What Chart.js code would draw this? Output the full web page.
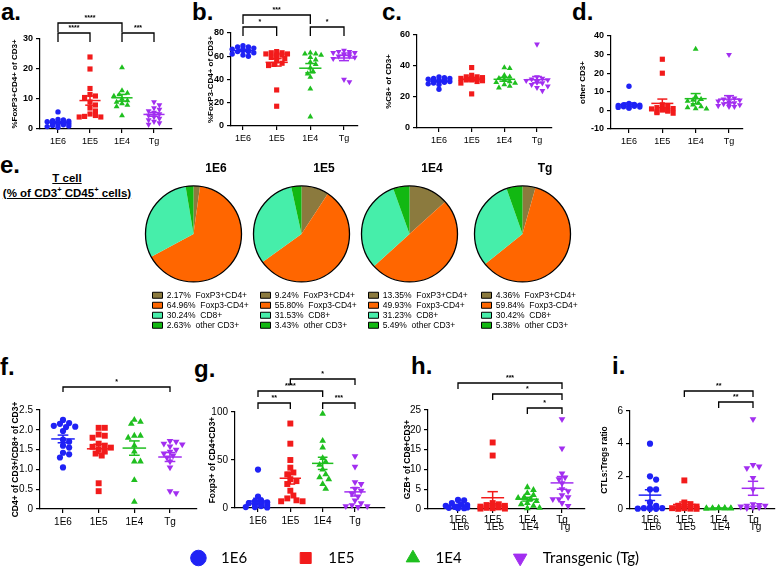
<!DOCTYPE html>
<html>
<head>
<meta charset="utf-8">
<title>T cell subsets</title>
<script src="https://cdn.jsdelivr.net/npm/chart.js@4.4.1/dist/chart.umd.min.js"></script>
<style>
  html, body { margin: 0; padding: 0; background: #fff; }
  body { position: relative; width: 778px; height: 567px; overflow: hidden; font-family: 'Liberation Sans', Arial, sans-serif; }
  canvas { position: absolute; }
  .panel { position: absolute; font-weight: bold; font-size: 24px; line-height: 24px; color: #000; }
  .tcell { position: absolute; left: 0; top: 171px; width: 134px; text-align: center; font-weight: bold; font-size: 11.5px; line-height: 15px; color: #000; white-space: nowrap; }
  .tcell sup { font-size: 7.5px; line-height: 0; }
</style>
</head>
<body>
<div class="panel" style="left:1px;top:0px">a.</div>
<div class="panel" style="left:192px;top:0px">b.</div>
<div class="panel" style="left:382px;top:0px">c.</div>
<div class="panel" style="left:572px;top:0px">d.</div>
<div class="panel" style="left:0px;top:153px">e.</div>
<div class="panel" style="left:0px;top:355px">f.</div>
<div class="panel" style="left:194px;top:357px">g.</div>
<div class="panel" style="left:411px;top:354px">h.</div>
<div class="panel" style="left:612px;top:354px">i.</div>
<div class="tcell"><u>T cell</u><br><u>(% of CD3<sup>+</sup> CD45<sup>+</sup> cells)</u></div>

<canvas id="chartA"></canvas>
<canvas id="chartB"></canvas>
<canvas id="chartC"></canvas>
<canvas id="chartD"></canvas>
<canvas id="pie1E6"></canvas>
<canvas id="pie1E5"></canvas>
<canvas id="pie1E4"></canvas>
<canvas id="pieTg"></canvas>
<canvas id="chartF"></canvas>
<canvas id="chartG"></canvas>
<canvas id="chartH"></canvas>
<canvas id="chartI"></canvas>
<canvas id="groupLegend"></canvas>

<script>
// ---- groups shared by every panel ----
const groups = ['1E6', '1E5', '1E4', 'Tg'];
const groupNames = ['1E6', '1E5', '1E4', 'Transgenic (Tg)'];
const groupColors = ['#1f22f5', '#f21b1b', '#1fbf1f', '#a22ef0'];
const groupShapes = ['circle', 'rect', 'triangle', 'triangle'];
const groupRotations = [0, 0, 0, 180];

// a. %FoxP3+CD4+ of CD3+
const foxp3PosCd4 = [
  [5.7, 3.2, 3.0, 2.8, 2.6, 2.4, 2.3, 2.2, 2.0, 1.8, 1.6, 1.4, 1.2, 1.0, 0.8, 0.6],
  [24, 20, 13.5, 11.5, 11, 10.5, 9, 8, 7, 6, 5, 4.5, 4.2, 4, 4],
  [20.5, 12.8, 12, 11.5, 11, 10, 9.5, 9, 8.5, 8, 7.5, 4.5],
  [9, 8, 7, 6.5, 6, 5.5, 5, 4.5, 4, 3.5, 3, 2.5, 2, 1.5]
];
const foxp3PosCd4Sig = [[0, 1, '****', 0], [2, 3, '***', 0], [0, 2, '****', 1]];

// b. %FoxP3-CD4+ of CD3+
const foxp3NegCd4 = [
  [69, 68, 68, 67, 66, 66, 65, 65, 64, 64, 63, 62, 61, 60],
  [64, 63, 63, 62, 62, 61, 61, 60, 59, 58, 56, 54, 53, 52, 31, 17],
  [63, 62, 62, 61, 59, 57, 55, 53, 50, 47, 45, 42, 32, 8],
  [65, 64, 64, 63, 63, 62, 62, 61, 60, 60, 59, 58, 40, 38]
];
const foxp3NegCd4Sig = [[0, 1, '*', 0], [2, 3, '*', 0], [0, 2, '***', 1]];

// c. %C8+ of CD3+
const cd8OfCd3 = [
  [33, 32.5, 32, 32, 31.5, 31, 31, 30.5, 30, 30, 29.5, 29, 28.5, 28, 25],
  [39, 34, 33, 33, 32.5, 32, 32, 31.5, 31, 31, 30.5, 30, 29, 22],
  [39, 38.5, 34, 33, 32, 31, 30, 29.5, 29, 28, 27, 26],
  [54, 33, 32, 31.5, 31, 30.5, 30, 29.5, 29, 28, 27, 26, 24]
];
const cd8OfCd3Sig = [];

// d. other CD3+
const otherCd3 = [
  [13, 3.8, 3.2, 3, 2.8, 2.6, 2.4, 2.2, 2, 1.8, 1.6, 1.4, 1.2],
  [27.5, 20, 3, 2.2, 1.5, 1, 0.8, 0.5, 0.2, 0, -0.4, -0.8, -1.2, -1.5],
  [33, 7.5, 6, 5.5, 5, 4, 3, 2, 1.5, 1, 0.8],
  [30, 7, 6.5, 6, 5.5, 5, 4.5, 4, 3.5, 3, 3, 2.5, 2, 2]
];
const otherCd3Sig = [];

// e. pie charts, % of CD3+CD45+ cells
const pieSubsets = ['FoxP3+CD4+', 'Foxp3-CD4+', 'CD8+', 'other CD3+'];
const pieColors = ['#8b7a3e', '#ff6600', '#46eeaa', '#12b812'];
const pie1E6 = [2.17, 64.96, 30.24, 2.63];
const pie1E5 = [9.24, 55.80, 31.53, 3.43];
const pie1E4 = [13.35, 49.93, 31.23, 5.49];
const pieTg = [4.36, 59.84, 30.42, 5.38];

// f. CD4+ of CD3+ / CD8+ of CD3+
const cd4Cd8Ratio = [
  [2.25, 2.17, 2.15, 2.1, 2.08, 2.07, 1.97, 1.75, 1.7, 1.6, 1.55, 1.42, 1.38, 1.3, 1.05],
  [2.05, 2.05, 1.88, 1.85, 1.8, 1.65, 1.6, 1.57, 1.55, 1.5, 1.45, 1.4, 1.35, 0.65, 0.45],
  [2.25, 2.2, 2.15, 1.85, 1.85, 1.8, 1.6, 1.45, 1.2, 1.2, 0.73, 0.18],
  [1.72, 1.7, 1.65, 1.63, 1.58, 1.5, 1.45, 1.4, 1.35, 1.3, 1.2, 1.05, 0.45, 0.4]
];
const cd4Cd8RatioSig = [[0, 3, '*', 0]];

// g. Foxp3+ of CD4+CD3+
const foxp3OfCd4 = [
  [40, 12, 8, 7, 6, 5, 5, 4, 3, 2, 1, 1, 0.5],
  [88, 67, 50, 42, 37, 35, 30, 28, 25, 18, 13, 10, 8, 7, 7],
  [98, 70, 63, 52, 48, 45, 40, 35, 32, 30, 25, 20],
  [54, 43, 27, 25, 20, 18, 15, 12, 8, 5, 3, 2, 2, 1]
];
const foxp3OfCd4Sig = [[0, 1, '**', 0], [2, 3, '***', 0], [0, 2, '****', 1], [1, 3, '*', 2]];

// h. GZB+ of CD8+CD3+
const gzbOfCd8 = [
  [2.3, 2.2, 1.5, 1.2, 1, 0.8, 0.6, 0.5, 0.4, 0.3, 0.2, 0.2],
  [16.8, 13.5, 1.5, 1.2, 1, 0.8, 0.6, 0.5, 0.4, 0.3, 0.2, 0.1, 0.1],
  [5.5, 4.8, 4, 3.5, 3, 2.8, 2.5, 2, 1.5, 1.2, 0.8, 0.3, 0.2],
  [22.7, 15.3, 9, 8, 7.5, 6.5, 5, 4.5, 3.5, 3, 2.5, 2.5, 1.5, 0.8]
];
const gzbOfCd8Sig = [[2, 3, '*', 0], [1, 3, '*', 1], [0, 3, '***', 2]];

// i. CTLs:Tregs ratio
const ctlTregRatio = [
  [4, 2, 1.8, 1.2, 1.2, 0.4, 0.2, 0.1, 0.05, 0.05, 0.02, 0.01, 0.01],
  [1.75, 0.4, 0.3, 0.2, 0.15, 0.1, 0.05, 0.05, 0.02, 0.01, 0.01],
  [0.08, 0.07, 0.06, 0.05, 0.05, 0.04, 0.03, 0.02, 0.02, 0.01],
  [5.5, 2.7, 2.6, 2.5, 1.9, 1.2, 0.3, 0.25, 0.2, 0.2, 0.15, 0.1, 0.1, 0.05]
];
const ctlTregRatioSig = [[2, 3, '**', 0], [1, 3, '**', 1]];

const FONT = "'Liberation Sans', Arial, sans-serif";

/**
 * Spread points of one group sideways (simple beeswarm, overlap allowed).
 * Works in pixels, returns offsets in category units.
 */
function swarmOffsets(vals, pxPerY, pxPerX, diam) {
  const placed = [];
  const offs = new Array(vals.length).fill(0);
  const maxDx = 0.4 * pxPerX;
  const minDist = diam * 0.72;
  const order = vals.map((v, i) => i).sort((p, q) => vals[q] - vals[p]);
  order.forEach(idx => {
    const py = vals[idx] * pxPerY;
    let best = 0, bestHits = Infinity;
    for (let k = 0; k < 40; k++) {
      const cand = (k % 2 ? 1 : -1) * Math.ceil(k / 2) * diam * 0.45;
      if (Math.abs(cand) > maxDx) break;
      const hits = placed.filter(p => (p.x - cand) ** 2 + (p.y - py) ** 2 < minDist * minDist).length;
      if (hits < bestHits) { best = cand; bestHits = hits; }
      if (hits === 0) break;
    }
    placed.push({ x: best, y: py });
    offs[idx] = best / pxPerX;
  });
  return offs;
}

// mean +/- SEM lines and significance brackets
const dotExtras = {
  id: 'dotExtras',
  afterDatasetsDraw(chart, args, opts) {
    const { ctx, scales: { x, y } } = chart;
    const line = (x0, y0, x1, y1) => { ctx.beginPath(); ctx.moveTo(x0, y0); ctx.lineTo(x1, y1); ctx.stroke(); };
    ctx.save();
    ctx.lineWidth = 1.5;
    opts.values.forEach((vals, i) => {
      const n = vals.length;
      const mean = vals.reduce((s, v) => s + v, 0) / n;
      const sd = Math.sqrt(vals.reduce((s, v) => s + (v - mean) ** 2, 0) / (n - 1));
      const sem = sd / Math.sqrt(n);
      ctx.strokeStyle = groupColors[i];
      const ym = y.getPixelForValue(mean);
      const yl = y.getPixelForValue(mean - sem);
      const yh = y.getPixelForValue(mean + sem);
      line(x.getPixelForValue(i - 0.33), ym, x.getPixelForValue(i + 0.33), ym);
      line(x.getPixelForValue(i), yl, x.getPixelForValue(i), yh);
      line(x.getPixelForValue(i - 0.15), yl, x.getPixelForValue(i + 0.15), yl);
      line(x.getPixelForValue(i - 0.15), yh, x.getPixelForValue(i + 0.15), yh);
    });
    ctx.strokeStyle = '#000';
    ctx.fillStyle = '#000';
    ctx.lineWidth = 1.3;
    ctx.font = 'bold 7px ' + FONT;
    ctx.textAlign = 'center';
    ctx.textBaseline = 'bottom';
    opts.brackets.forEach(([a, b, label, level]) => {
      const yb = opts.bracketY[level];
      const xa = x.getPixelForValue(a), xb = x.getPixelForValue(b);
      ctx.beginPath();
      ctx.moveTo(xa, yb + opts.leg);
      ctx.lineTo(xa, yb);
      ctx.lineTo(xb, yb);
      ctx.lineTo(xb, yb + opts.leg);
      ctx.stroke();
      ctx.fillText(label, (xa + xb) / 2, yb - 1);
    });
    ctx.restore();
  }
};

/**
 * Build one scatter dot plot panel, positioned by page pixel geometry
 */
function dotPlot(id, values, brackets, g) {
  const canvas = document.getElementById(id);
  const left = g.axisX - 40;
  const width = g.right - left + 6;
  canvas.width = width;
  canvas.height = g.canvasH;
  canvas.style.left = left + 'px';
  canvas.style.top = g.canvasTop + 'px';

  const spacing = (g.lastCat - g.firstCat) / 3;
  const xmin = -(g.firstCat - g.axisX) / spacing;
  const xmax = xmin + (g.right - g.axisX) / spacing;
  const pxPerY = (g.bottom - g.top) / (g.ymax - g.ymin);

  const datasets = values.map((vals, i) => {
    const offs = swarmOffsets(vals, pxPerY, spacing, g.dot * 2 + 0.6);
    const r = groupShapes[i] === 'rect' ? g.dot * 1.35 : groupShapes[i] === 'triangle' ? g.dot * 1.25 : g.dot;
    return {
      label: groups[i],
      data: vals.map((v, j) => ({ x: i + offs[j], y: v })),
      pointStyle: groupShapes[i],
      rotation: groupRotations[i],
      pointRadius: r,
      backgroundColor: groupColors[i],
      borderColor: groupColors[i],
      borderWidth: 0,
      clip: false
    };
  });

  const tickFont = { size: g.tickSize, family: FONT };
  return new Chart(canvas, {
    type: 'scatter',
    data: { datasets },
    plugins: [dotExtras],
    options: {
      responsive: false,
      animation: false,
      events: [],
      layout: {
        padding: {
          left: 0,
          top: g.top - g.canvasTop,
          right: left + width - g.right,
          bottom: g.canvasTop + g.canvasH - g.bottom - g.xAxisH
        }
      },
      plugins: {
        legend: { display: false },
        tooltip: { enabled: false },
        dotExtras: {
          values,
          brackets,
          bracketY: g.bracketY.map(v => v - g.canvasTop),
          leg: g.leg
        }
      },
      scales: {
        x: {
          type: 'linear',
          min: xmin,
          max: xmax,
          afterBuildTicks(s) { s.ticks = groups.map((_, i) => ({ value: i })); },
          afterFit(s) { s.height = g.xAxisH; },
          ticks: {
            color: '#000',
            font: Object.assign({ lineHeight: g.doubled ? 0.75 : 1.2 }, tickFont),
            padding: 3,
            maxRotation: 0,
            autoSkip: false,
            callback: v => g.doubled ? [groups[v], '\u2002' + groups[v]] : groups[v]
          },
          border: { display: true, color: '#000', width: 1.2 },
          grid: { drawOnChartArea: false, drawTicks: true, tickLength: 4, color: '#000', lineWidth: 1.2 }
        },
        y: {
          min: g.ymin,
          max: g.ymax,
          afterFit(s) { s.width = 40; },
          ticks: {
            stepSize: g.step,
            color: '#000',
            font: Object.assign({ weight: g.yTickWeight }, tickFont),
            padding: 3,
            callback: g.fmt || (v => v)
          },
          border: { display: true, color: '#000', width: 1.2 },
          grid: { drawOnChartArea: false, drawTicks: true, tickLength: 4, color: '#000', lineWidth: 1.2 },
          title: {
            display: true,
            text: g.title,
            color: '#000',
            font: { size: g.titleSize, weight: 'bold', family: FONT },
            padding: { top: 40 - g.titleGap - g.titleSize * 0.6, bottom: 0 }
          }
        }
      }
    }
  });
}

const topRow = { canvasTop: 0, canvasH: 152, xAxisH: 18, tickSize: 9, yTickWeight: 'bold', titleSize: 8, dot: 2.7, leg: 9 };
const bottomRow = { canvasTop: 355, canvasH: 180, xAxisH: 24, tickSize: 10, yTickWeight: 'normal', titleSize: 8.5, dot: 3.1, leg: 6 };

dotPlot('chartA', foxp3PosCd4, foxp3PosCd4Sig, Object.assign({}, topRow, {
  axisX: 40, firstCat: 58, lastCat: 154, right: 172, top: 39, bottom: 129,
  ymin: 0, ymax: 30, step: 10, title: '%FoxP3+CD4+ of CD3+', titleGap: 25, bracketY: [33, 23]
}));
dotPlot('chartB', foxp3NegCd4, foxp3NegCd4Sig, Object.assign({}, topRow, {
  axisX: 231, firstCat: 243, lastCat: 344, right: 358, top: 33, bottom: 126,
  ymin: 0, ymax: 80, step: 20, title: '%FoxP3-CD4+ of CD3+', titleGap: 20, bracketY: [27, 15]
}));
dotPlot('chartC', cd8OfCd3, cd8OfCd3Sig, Object.assign({}, topRow, {
  axisX: 417, firstCat: 439, lastCat: 537, right: 552, top: 35, bottom: 128,
  ymin: 0, ymax: 60, step: 20, title: '%C8+ of CD3+', titleGap: 28, bracketY: []
}));
dotPlot('chartD', otherCd3, otherCd3Sig, Object.assign({}, topRow, {
  axisX: 611, firstCat: 629, lastCat: 729, right: 743, top: 36, bottom: 129,
  ymin: -10, ymax: 40, step: 10, title: 'other CD3+', titleGap: 28, bracketY: []
}));
dotPlot('chartF', cd4Cd8Ratio, cd4Cd8RatioSig, Object.assign({}, bottomRow, {
  axisX: 40, firstCat: 63, lastCat: 170, right: 197, top: 410, bottom: 509,
  ymin: 0, ymax: 2.5, step: 0.5, fmt: v => (v === 0 ? '0' : v.toFixed(1)),
  title: 'CD4+ of CD3+/CD8+ of CD3+', titleGap: 24, bracketY: [387], leg: 5
}));
dotPlot('chartG', foxp3OfCd4, foxp3OfCd4Sig, Object.assign({}, bottomRow, {
  axisX: 235, firstCat: 258, lastCat: 355, right: 385, top: 412, bottom: 508,
  ymin: 0, ymax: 100, step: 50, title: 'Foxp3+ of CD4+CD3+', titleGap: 22, bracketY: [403, 391, 379]
}));
dotPlot('chartH', gzbOfCd8, gzbOfCd8Sig, Object.assign({}, bottomRow, {
  axisX: 428, firstCat: 458, lastCat: 562, right: 585, top: 410, bottom: 509,
  ymin: 0, ymax: 25, step: 5, title: 'GZB+ of CD8+CD3+', titleGap: 20, bracketY: [408, 394, 383], doubled: true
}));
dotPlot('chartI', ctlTregRatio, ctlTregRatioSig, Object.assign({}, bottomRow, {
  axisX: 630, firstCat: 650, lastCat: 753, right: 775, top: 411, bottom: 509,
  ymin: 0, ymax: 6, step: 2, title: 'CTLs:Tregs ratio', titleGap: 25, bracketY: [402, 391], doubled: true
}));

// ---- e. pie charts ----
const pieOutline = {
  id: 'pieOutline',
  afterDatasetsDraw(chart) {
    const arc = chart.getDatasetMeta(0).data[0];
    if (!arc) return;
    const { ctx } = chart;
    ctx.save();
    ctx.strokeStyle = '#000';
    ctx.lineWidth = 1.3;
    ctx.beginPath();
    ctx.arc(arc.x, arc.y, arc.outerRadius, 0, Math.PI * 2);
    ctx.stroke();
    ctx.restore();
  }
};

function pieChart(id, group, values, cx) {
  const canvas = document.getElementById(id);
  // chart area is 85px wide and centred on cx; an empty right-hand axis
  // keeps the full-width legend from being cut
  canvas.width = 140;
  canvas.height = 186;
  canvas.style.left = (cx - 52.5) + 'px';
  canvas.style.top = '155px';
  return new Chart(canvas, {
    type: 'pie',
    data: {
      labels: pieSubsets,
      datasets: [{
        data: values,
        backgroundColor: pieColors,
        borderWidth: 0,
        radius: 48,
        clip: false
      }]
    },
    plugins: [pieOutline],
    options: {
      responsive: false,
      animation: false,
      events: [],
      layout: { padding: { left: 10, right: 0, top: 0, bottom: 1.5 } },
      scales: {
        spacer: {
          type: 'linear',
          position: 'right',
          display: true,
          grid: { display: false },
          border: { display: false },
          ticks: { display: false },
          afterFit(s) { s.width = 45; }
        }
      },
      plugins: {
        tooltip: { enabled: false },
        title: {
          display: true,
          text: group,
          color: '#000',
          font: { size: 12, weight: 'bold', family: FONT },
          padding: { top: 6, bottom: 3 }
        },
        legend: {
          position: 'bottom',
          align: 'start',
          labels: {
            color: '#000',
            font: { size: 8.5, family: FONT },
            boxWidth: 10,
            boxHeight: 6,
            padding: 1.5,
            generateLabels: () => pieSubsets.map((name, k) => ({
              text: values[k].toFixed(2) + '%  ' + name,
              fillStyle: pieColors[k],
              strokeStyle: '#000',
              lineWidth: 1,
              hidden: false,
              index: k
            }))
          }
        }
      }
    }
  });
}

pieChart('pie1E6', '1E6', pie1E6, 193);
pieChart('pie1E5', '1E5', pie1E5, 301);
pieChart('pie1E4', '1E4', pie1E4, 409);
pieChart('pieTg', 'Tg', pieTg, 522);

// ---- shared group legend at the bottom ----
(function groupLegend() {
  const canvas = document.getElementById('groupLegend');
  canvas.width = 778;
  canvas.height = 200;
  canvas.style.left = '0px';
  canvas.style.top = '400px';
  new Chart(canvas, {
    type: 'scatter',
    data: {
      datasets: groupNames.map((name, i) => ({
        label: '  ' + name,
        data: [],
        pointStyle: groupShapes[i],
        rotation: groupRotations[i],
        backgroundColor: groupColors[i],
        borderColor: groupColors[i],
        borderWidth: 1
      }))
    },
    options: {
      responsive: false,
      animation: false,
      events: [],
      layout: { padding: { left: 52, right: 0, top: 0, bottom: 24.5 } },
      scales: { x: { display: false }, y: { display: false } },
      plugins: {
        tooltip: { enabled: false },
        legend: {
          position: 'bottom',
          labels: {
            color: '#000',
            font: { size: 15, family: "Lato, 'Open Sans', sans-serif" },
            usePointStyle: true,
            boxWidth: 15,
            boxHeight: 11,
            padding: 51
          }
        }
      }
    }
  });
})();
</script>
</body>
</html>
